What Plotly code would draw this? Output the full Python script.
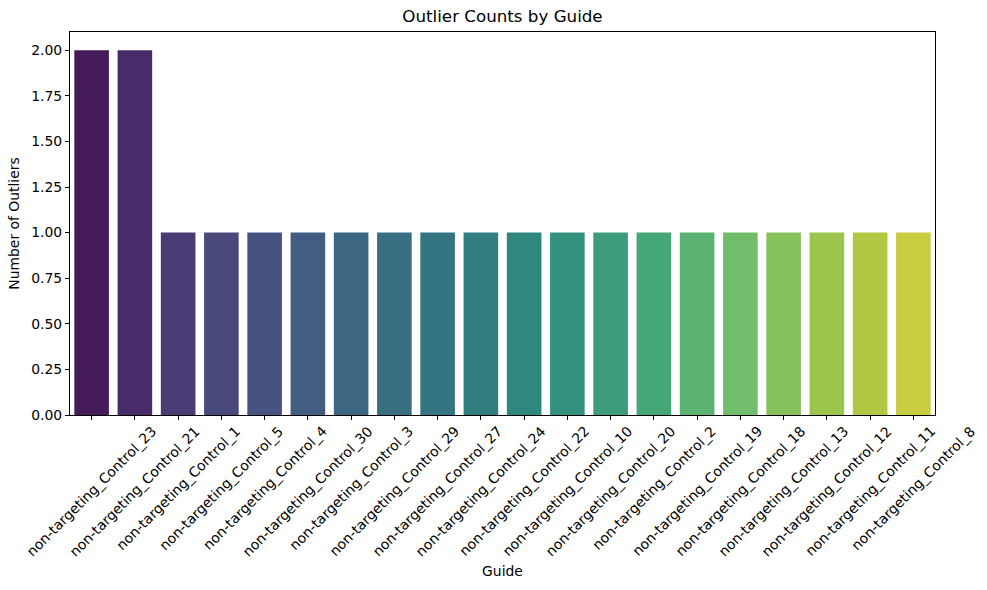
import colorsys
import plotly.graph_objects as go
from plotly.colors import sample_colorscale, unlabel_rgb

guides = [
    "non-targeting_Control_23", "non-targeting_Control_21", "non-targeting_Control_1",
    "non-targeting_Control_5", "non-targeting_Control_4", "non-targeting_Control_30",
    "non-targeting_Control_3", "non-targeting_Control_29", "non-targeting_Control_27",
    "non-targeting_Control_24", "non-targeting_Control_22", "non-targeting_Control_10",
    "non-targeting_Control_20", "non-targeting_Control_2", "non-targeting_Control_19",
    "non-targeting_Control_18", "non-targeting_Control_13", "non-targeting_Control_12",
    "non-targeting_Control_11", "non-targeting_Control_8",
]
outlier_counts = [2, 2, 1, 1, 1, 1, 1, 1, 1, 1, 1, 1, 1, 1, 1, 1, 1, 1, 1, 1]
y_ticks = [0, 0.25, 0.5, 0.75, 1.0, 1.25, 1.5, 1.75, 2.0]

n = len(guides)
positions = [i / (n + 1) for i in range(1, n + 1)]
raw = sample_colorscale("Viridis", positions)


def desat(c, prop=0.75):
    r, g, b = [v / 255 for v in unlabel_rgb(c)]
    h, l, s = colorsys.rgb_to_hls(r, g, b)
    r, g, b = colorsys.hls_to_rgb(h, l, s * prop)
    return "rgb(%d,%d,%d)" % (round(r * 255), round(g * 255), round(b * 255))


colors = [desat(c) for c in raw]
FONT = "DejaVu Sans"
FS = 13.9

fig = go.Figure(go.Bar(
    x=list(range(n)), y=outlier_counts, marker_color=colors,
    marker_line_width=0, width=0.8,
))

annotations = []
for i, g in enumerate(guides):
    annotations.append(dict(
        x=i, y=0, xref="x", yref="paper", text=g, showarrow=False,
        textangle=-45, xanchor="center", yanchor="top", yshift=-5,
        font=dict(family=FONT, size=FS, color="black"),
    ))

fig.update_layout(
    width=987, height=590,
    margin=dict(l=70, r=52, t=32, b=175, autoexpand=False),
    plot_bgcolor="white", paper_bgcolor="white",
    font=dict(family=FONT, size=FS, color="black"),
    title=dict(text="Outlier Counts by Guide", x=0.5, xref="paper", y=0.972, yref="container",
               xanchor="center", yanchor="middle", font=dict(size=16.7, family=FONT)),
    showlegend=False,
    bargap=0.2,
    annotations=annotations,
)
fig.update_xaxes(
    range=[-0.5, n - 0.5], tickvals=list(range(n)), showticklabels=False,
    ticks="outside", ticklen=4, tickcolor="black", showline=True, linecolor="black",
    linewidth=1, mirror=True, showgrid=False, zeroline=False,
    title=dict(text="Guide", standoff=147, font=dict(size=FS, family=FONT)),
    automargin=False,
)
fig.update_yaxes(
    range=[0, 2.1], tickvals=y_ticks, tickformat=".2f", ticks="outside", ticklen=4,
    tickcolor="black", showline=True, linecolor="black", linewidth=1, mirror=True,
    showgrid=False, zeroline=False,
    title=dict(text="Number of Outliers", standoff=8, font=dict(size=FS, family=FONT)),
    automargin=False,
)

fig.write_html("out.html")
